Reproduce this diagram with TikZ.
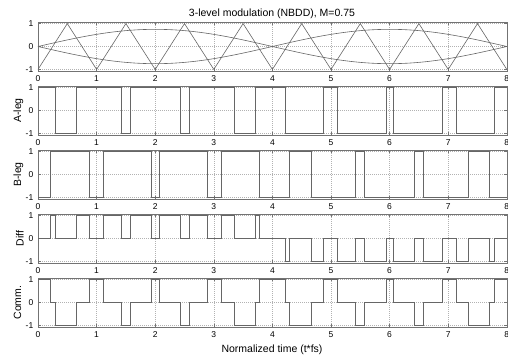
\documentclass[tikz,border=0pt]{standalone}
\usepackage{fontspec}
\setmainfont{Liberation Sans}
\newcommand\fpsolve[3]{%
  \pgfmathsetmacro#1{\k+(#2 #3 0.75*sin(45*(\k+#2/4)))/4}%
  \pgfmathsetmacro#1{\k+(#2 #3 0.75*sin(45*#1))/4}%
  \pgfmathsetmacro#1{\k+(#2 #3 0.75*sin(45*#1))/4}%
  \pgfmathsetmacro#1{\k+(#2 #3 0.75*sin(45*#1))/4}%
  \pgfmathsetmacro#1{\k+(#2 #3 0.75*sin(45*#1))/4}%
}
\newcommand\axesframe{%
  \foreach \xx in {1,...,7} \draw[gridl] (\xx,-1.07) -- (\xx,1.07);
  \foreach \yy in {-1,0,1} \draw[gridl] (0,\yy) -- (8,\yy);
  \foreach \xx in {0,...,8} {%
    \draw[tickm] (\xx,-1.07) -- ++(0,3pt);
    \draw[tickm] (\xx,1.07) -- ++(0,-3pt);
    \node[ticklab,yshift=-8pt] at (\xx,-1.07) {\xx};}
  \foreach \yy in {-1,0,1} {%
    \draw[tickm] (0,\yy) -- ++(3pt,0);
    \draw[tickm] (8,\yy) -- ++(-3pt,0);
    \node[ticklab,anchor=east,xshift=-4.5pt] at (0,\yy) {\yy};}
  \draw[frame] (0,-1.07) rectangle (8,1.07);
}
\begin{document}
\begin{tikzpicture}[x=1pt,y=1pt,
  frame/.style={draw=black!55, line width=0.6pt},
  gridl/.style={draw=black!30, line width=0.4pt, dash pattern=on 0.5pt off 1.5pt},
  sig/.style={draw=black!60, line width=0.6pt, line join=miter},
  tickm/.style={draw=black!55, line width=0.5pt},
  ticklab/.style={font=\fontsize{8.5}{10}\selectfont, inner sep=0pt},
  lab/.style={font=\fontsize{10.5}{12}\selectfont, inner sep=0pt},
  panel/.style={shift={(38pt,#1)}, x=58.6pt, y=22.9pt}]
\useasboundingbox (0,0) rectangle (508,-354);
% carrier and references
\begin{scope}[panel=-46.5pt]
  \axesframe
  \draw[sig] (0,-1) \foreach \xx in {0,...,7}{ -- ({\xx+0.5},1) -- ({\xx+1},-1)};
  \draw[sig] plot[domain=0:8,samples=161] (\x,{0.75*sin(45*\x)});
  \draw[sig] plot[domain=0:8,samples=161] (\x,{-0.75*sin(45*\x)});
\end{scope}
\begin{scope}[panel=-110.5pt]\axesframe\end{scope}
\begin{scope}[panel=-174.5pt]\axesframe\end{scope}
\begin{scope}[panel=-238.5pt]\axesframe\end{scope}
\begin{scope}[panel=-302.5pt]\axesframe\end{scope}
\foreach \k in {0,...,7}{
  \fpsolve\aone{1}{+}
  \fpsolve\bone{1}{-}
  \fpsolve\atwo{3}{-}
  \fpsolve\btwo{3}{+}
  \pgfmathsetmacro\pone{min(\aone,\bone)}
  \pgfmathsetmacro\ptwo{max(\aone,\bone)}
  \pgfmathsetmacro\pthree{min(\atwo,\btwo)}
  \pgfmathsetmacro\pfour{max(\atwo,\btwo)}
  \pgfmathsetmacro\dlev{sin(45*(\k+0.5))>0 ? 1 : -1}
  \pgfmathsetmacro\kk{\k+1}
  \begin{scope}[panel=-110.5pt]
    \draw[sig] (\k,1) -- (\aone,1) -- (\aone,-1) -- (\atwo,-1) -- (\atwo,1) -- (\kk,1);
  \end{scope}
  \begin{scope}[panel=-174.5pt]
    \draw[sig] (\k,-1) -- (\bone,-1) -- (\bone,1) -- (\btwo,1) -- (\btwo,-1) -- (\kk,-1);
  \end{scope}
  \begin{scope}[panel=-238.5pt]
    \draw[sig] (\k,0) -- (\pone,0) -- (\pone,\dlev) -- (\ptwo,\dlev) -- (\ptwo,0) -- (\pthree,0) -- (\pthree,\dlev) -- (\pfour,\dlev) -- (\pfour,0) -- (\kk,0);
  \end{scope}
  \begin{scope}[panel=-302.5pt]
    \draw[sig] (\k,1) -- (\pone,1) -- (\pone,0) -- (\ptwo,0) -- (\ptwo,-1) -- (\pthree,-1) -- (\pthree,0) -- (\pfour,0) -- (\pfour,1) -- (\kk,1);
  \end{scope}
}
\node[lab,anchor=base] (title) at (272,-16.5) {3-level modulation (NBDD), M=0.75};
\node[lab,rotate=90,anchor=base] (la) at (21,-110.5) {A-leg};
\node[lab,rotate=90,anchor=base] (lb) at (21,-174.5) {B-leg};
\node[lab,rotate=90,anchor=base] (ld) at (23.5,-238.5) {Diff};
\node[lab,rotate=90,anchor=base] (lc) at (21,-302.5) {Comm.};
\node[lab,anchor=base] (xl) at (272,-352) {Normalized time (t*fs)};
\end{tikzpicture}
\end{document}
